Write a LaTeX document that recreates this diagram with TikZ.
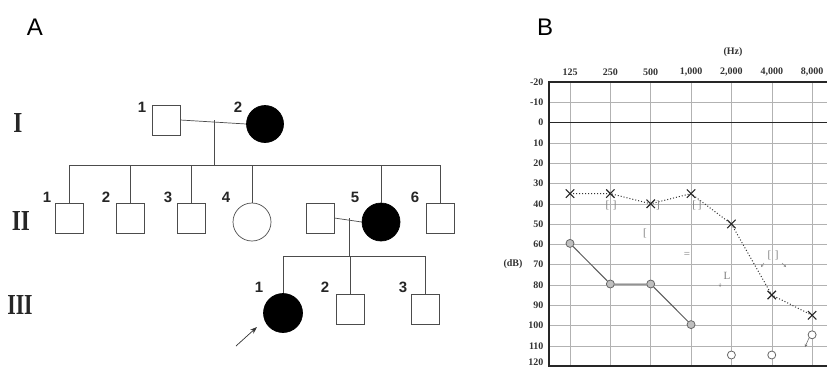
\documentclass[tikz,border=0pt]{standalone}
\usepackage{fontspec}
\setmainfont{Liberation Serif}
\newfontfamily\arialf{Liberation Sans}
\usetikzlibrary{arrows.meta}
\begin{document}
\begin{tikzpicture}[x=1pt,y=-1pt,
  ped/.style={line width=0.7pt, draw=black!70},
  male/.style={ped, rectangle, minimum width=28pt, minimum height=30pt, inner sep=0pt, fill=white},
  female/.style={ped, circle, minimum size=38pt, inner sep=0pt, fill=white},
  aff/.style={fill=black, draw=black},
  num/.style={font=\arialf\bfseries\fontsize{15}{15}\selectfont, text=black!85},
  gen/.style={font=\bfseries\fontsize{29}{29}\selectfont, text=black!85},
  panel/.style={font=\arialf\fontsize{24}{24}\selectfont},
  axl/.style={font=\fontsize{10}{10}\selectfont\bfseries, text=black!80},
  grid/.style={draw=black!30, line width=0.5pt},
  thick/.style={draw=black!85, line width=1.6pt},
  ac/.style={draw=black!65, line width=1pt},
  bc/.style={draw=black!80, line width=1pt, dotted},
  oc/.style={circle, draw=black!60, fill=black!25, line width=0.8pt, minimum size=8pt, inner sep=0pt},
  ox/.style={inner sep=0pt, minimum size=8pt},
  bcl/.style={font=\fontsize{11}{11}\selectfont, text=black!50}
  ]
\useasboundingbox (0,0) rectangle (827,370);
\fill[white] (0,0) rectangle (827,370);

% ---------- Panel A ----------
\node[panel] (A) at (35,27) {A};
\node[gen] (gI) at (18,123) {\scalebox{0.8}[1]{I}};
\node[gen] (gII) at (21,221) {\scalebox{0.8}[1]{II}};
\node[gen] (gIII) at (20,305) {\scalebox{0.75}[1]{III}};

\node[male] (I1) at (166,120) {};
\node[female,aff,minimum size=37pt] (I2) at (265,124) {};
\node[num] (nI1) at (142,107) {1};
\node[num] (nI2) at (238,107) {2};

\coordinate (m1) at (214,120);
\coordinate (s1) at (214,165);
\coordinate (sL) at (69,165);
\coordinate (sR) at (440,165);

\node[male] (II1) at (69,218) {};
\node[male] (II2) at (130,218) {};
\node[male] (II3) at (191,218) {};
\node[female] (II4) at (252,222) {};
\node[male] (II5s) at (320,218) {};
\node[female,aff] (II5) at (381,222) {};
\node[male] (II6) at (440,218) {};
\node[num] (nII1) at (47,197) {1};
\node[num] (nII2) at (106,197) {2};
\node[num] (nII3) at (168,197) {3};
\node[num] (nII4) at (226,197) {4};
\node[num] (nII5) at (355,197) {5};
\node[num] (nII6) at (415,197) {6};

\draw[ped] (I1.east) -- (I2.west);
\draw[ped] (m1) -- (s1);
\draw[ped] (sL) -- (sR);
\foreach \c in {II1,II2,II3,II4,II5,II6} \draw[ped] (\c.north |- s1) -- (\c.north);

\coordinate (m2) at (349,218);
\coordinate (s2) at (349,256);
\coordinate (s2L) at (283,256);
\coordinate (s2R) at (425,256);
\draw[ped] (II5s.east) -- (II5.west);
\draw[ped] (m2) -- (s2);
\draw[ped] (s2L) -- (s2R);

\node[female,aff,minimum size=39pt] (III1) at (283,313) {};
\node[male] (III2) at (350,309) {};
\node[male] (III3) at (425,309) {};
\foreach \c in {III1,III2,III3} \draw[ped] (\c.north |- s2) -- (\c.north);
\node[num] (nIII1) at (259,287) {1};
\node[num] (nIII2) at (325,287) {2};
\node[num] (nIII3) at (403,287) {3};

\coordinate (arS) at (236,346);
\coordinate (arE) at (257,327);
\draw[black!80, line width=0.7pt, -{Stealth[length=7pt,width=5pt]}] (arS) -- (arE);

% ---------- Panel B ----------
\node[panel] (B) at (545,27) {B};
\node[axl] (hz) at (733,52) {(Hz)};
\node[axl] (dbl) at (513,264) {(dB)};

% grid
\foreach \i in {0,...,14} {
  \pgfmathsetmacro{\yy}{82+\i*20.3}
  \draw[grid] (549,\yy) -- (827,\yy);
}
\foreach \i in {0,...,13} {
  \pgfmathsetmacro{\yy}{82+\i*20.3}
  \pgfmathtruncatemacro{\dbv}{-20+10*\i}
  \node[axl, anchor=east] at (547,\yy) {\dbv};
}
\node[axl, anchor=east] (l120) at (547,362) {120};
\foreach \f [count=\i from 0] in {125,250,500,{1,000},{2,000},{4,000},{8,000}} {
  \pgfmathsetmacro{\xx}{570+\i*40.35}
  \draw[grid] (\xx,82) -- (\xx,366);
  \node[axl] at (\xx,72) {\f};
}
\draw[thick] (827,82) -- (549,82) -- (549,366) -- (827,366);
\draw[thick] (549,122.6) -- (827,122.6);

% air conduction (solid, circles)
\node[oc] (o1) at (570,243.4) {};
\node[oc] (o2) at (610.35,284) {};
\node[oc] (o3) at (650.7,284) {};
\node[oc] (o4) at (691.05,324.6) {};
\node[oc, fill=white] (o5) at (731.4,355) {};
\node[oc, fill=white] (o6) at (771.75,355) {};
\node[oc, fill=white] (o7) at (812.1,334.8) {};
\draw[ac] (o1) -- (o2) -- (o3) -- (o4);
\coordinate (o7a) at (805,347);
\draw[black!55, line width=0.6pt, -{Stealth[length=3pt,width=3pt]}] (o7.south west) -- (o7a);

% other ear (dotted, crosses)
\node[ox] (x1) at (570,193.6) {};
\node[ox] (x2) at (610.35,193.6) {};
\node[ox] (x3) at (650.7,203.8) {};
\node[ox] (x4) at (691.05,193.6) {};
\node[ox] (x5) at (731.4,224) {};
\node[ox] (x6) at (771.75,295) {};
\node[ox] (x7) at (812.1,315.3) {};
\draw[bc] (x1.center) -- (x2.center) -- (x3.center) -- (x4.center) -- (x5.center) -- (x6.center) -- (x7.center);
\foreach \c in {x1,x2,x3,x4,x5,x6,x7} {
  \draw[black!85, line width=1.1pt] (\c.north west) -- (\c.south east) (\c.north east) -- (\c.south west);
}

% bone conduction marks
\node[bcl] (b1) at (611,205) {[\,\,]};
\node[bcl] (b2) at (658,205) {]};
\node[bcl] (b3) at (645,233) {[};
\node[bcl] (b4) at (697,205) {[\,]};
\node[bcl] (b5) at (687,255) {=};
\node[bcl] (b6) at (727,276) {L};
\node[bcl] (b7) at (773,255) {[\,\,]};
\coordinate (b6a) at (720,287);
\coordinate (b7l) at (761,267);
\coordinate (b7r) at (786,267);
\draw[black!45, line width=0.5pt, -{Stealth[length=2.5pt,width=2.5pt]}] (b6.south west) -- (b6a);
\draw[black!45, line width=0.5pt, -{Stealth[length=2.5pt,width=2.5pt]}] (b7.south west) -- (b7l);
\draw[black!45, line width=0.5pt, -{Stealth[length=2.5pt,width=2.5pt]}] (b7.south east) -- (b7r);
\end{tikzpicture}
\end{document}
